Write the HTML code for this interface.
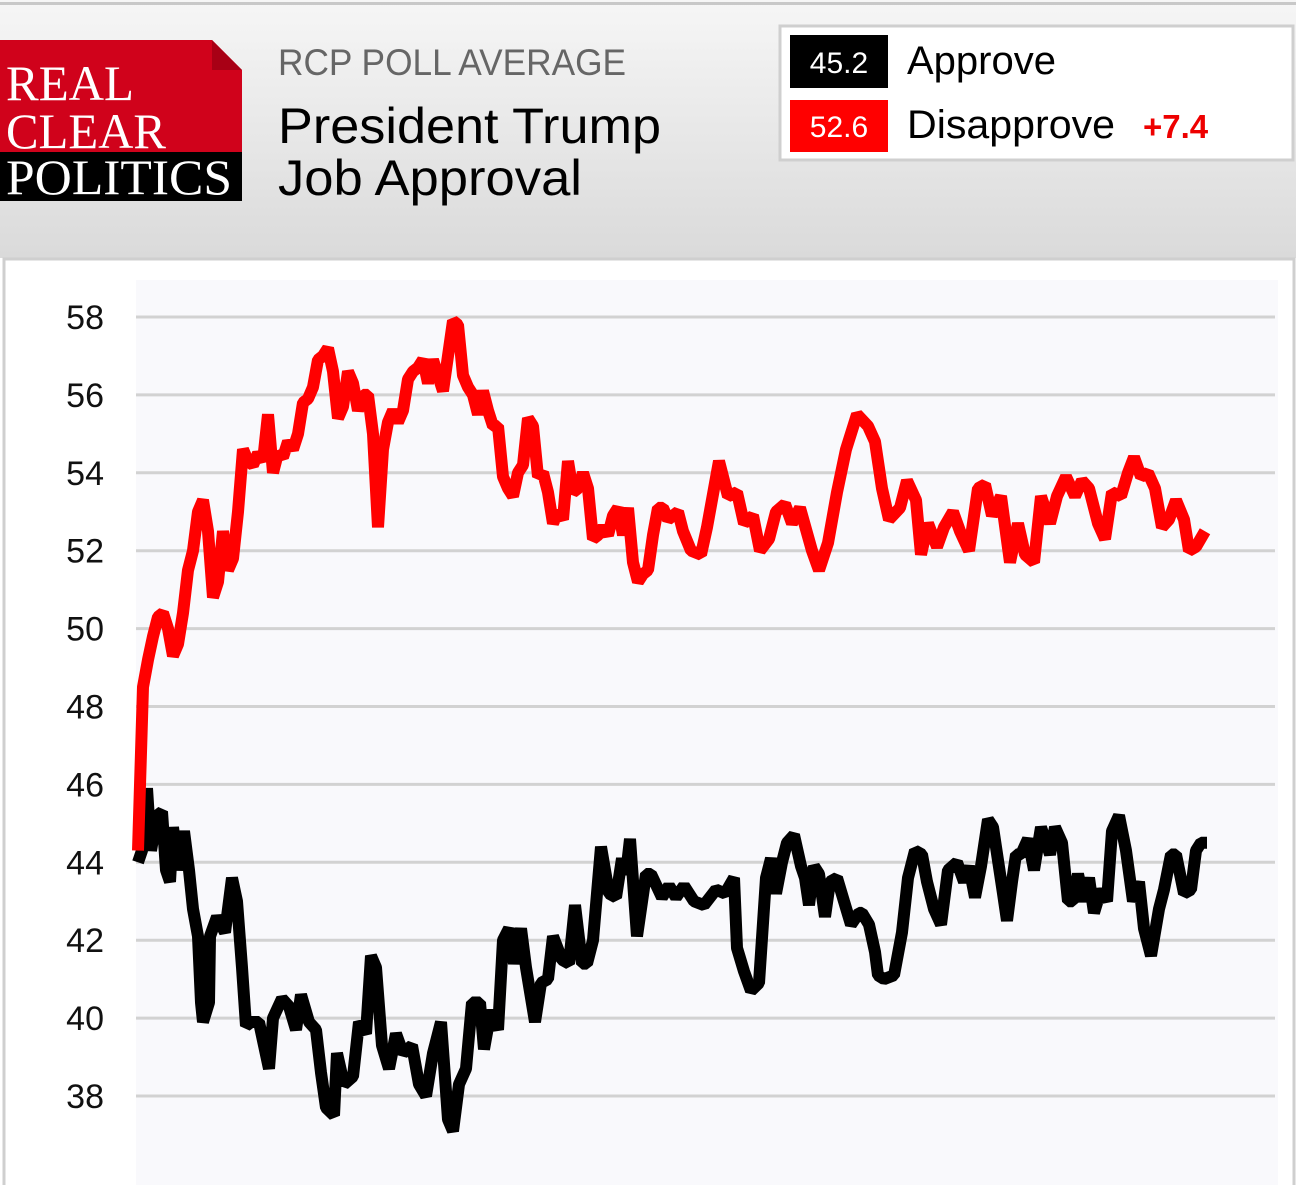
<!DOCTYPE html>
<html><head><meta charset="utf-8">
<style>
html,body{margin:0;padding:0;width:1296px;height:1185px;overflow:hidden;background:#fff;font-family:"Liberation Sans",sans-serif}
svg text{font-family:"Liberation Sans",sans-serif}
</style></head>
<body>
<svg width="1296" height="1185" viewBox="0 0 1296 1185">
<defs>
<linearGradient id="hdr" x1="0" y1="0" x2="0" y2="1">
<stop offset="0" stop-color="#f6f6f6"/><stop offset="1" stop-color="#dadada"/>
</linearGradient>
</defs>
<g>
<rect x="0" y="0" width="1296" height="258" fill="url(#hdr)"/>
<rect x="0" y="2" width="1296" height="3" fill="#c8c8c8"/>
</g>
<g>
<polygon points="0,40 212,40 242,70 242,152 0,152" fill="#d0021b"/>
<polygon points="212,40 242,70 212,70" fill="#a80015"/>
<rect x="0" y="152" width="242" height="49" fill="#000"/>
<text x="6" y="100" font-size="50" fill="#fff" textLength="128" lengthAdjust="spacingAndGlyphs" style="font-family:'Liberation Serif',serif">REAL</text>
<text x="6" y="148" font-size="50" fill="#fff" textLength="160" lengthAdjust="spacingAndGlyphs" style="font-family:'Liberation Serif',serif">CLEAR</text>
<text x="6" y="194" font-size="50" fill="#fff" textLength="226" lengthAdjust="spacingAndGlyphs" style="font-family:'Liberation Serif',serif">POLITICS</text>
</g>
<text x="278" y="75" font-size="37" fill="#666" textLength="348" lengthAdjust="spacingAndGlyphs">RCP POLL AVERAGE</text>
<text x="278" y="143" font-size="50" fill="#000" textLength="383" lengthAdjust="spacingAndGlyphs">President Trump</text>
<text x="278" y="195" font-size="50" fill="#000" textLength="304" lengthAdjust="spacingAndGlyphs">Job Approval</text>

<g>
<rect x="780" y="26" width="513" height="134" fill="#fff" stroke="#cfcfcf" stroke-width="3"/>
<g>
<rect x="790" y="35" width="98" height="53" fill="#000"/>
<text x="839" y="73" font-size="30" fill="#fff" text-anchor="middle">45.2</text>
<text x="907" y="74" font-size="40" fill="#000">Approve</text>
</g>
<g>
<rect x="790" y="100" width="98" height="52" fill="#f00"/>
<text x="839" y="137" font-size="30" fill="#fff" text-anchor="middle">52.6</text>
<text x="907" y="138" font-size="40" fill="#000" textLength="208" lengthAdjust="spacingAndGlyphs">Disapprove</text>
<text x="1143" y="138" font-size="33" font-weight="bold" fill="#e00">+7.4</text>
</g>
</g>

<g>
<rect x="4" y="259" width="1290" height="930" fill="#fff" stroke="#cfcfcf" stroke-width="3"/>
<rect x="136" y="280" width="1142" height="905" fill="#f9f9fc"/>
</g>
<g id="grid"></g>
<g id="yaxis"></g>
<g id="series"></g>
</svg>
<script>
const yTicks = [58,56,54,52,50,48,46,44,42,40,38];
const disDays = [0,5,10,15,20,25,30,35,40,45,50,55,60,65,70,75,80,85,90,95,100,105,110,115,120,125,130,135,140,145,150,155,160,165,170,175,180,185,190,195,200,205,210,215,220,225,230,235,240,245,250,255,260,265,270,275,280,285,290,295,300,305,310,315,320,325,330,335,340,345,350,355,360,365,370,375,380,385,390,395,400,405,410,415,420,425,430,435,440,445,450,455,460,465,470,475,480,485,490,495,500,505,510,515,520,525,530,535,540,545,553,563,569,581,590,599,606,615,622,631,638,647,654,662,674,681,690,699,708,719,730,737,744,751,762,769,778,783,790,799,806,815,822,831,840,847,854,863,872,880,887,896,903,912,919,928,937,944,951,960,967,974,983,990,996,1003,1010,1017,1024,1031,1038,1046,1051,1058,1067];
const disVals = [44.3,48.5,49.2,49.8,50.3,50.4,50.0,49.3,49.6,50.4,51.5,52.0,53.0,53.3,52.5,50.8,51.2,52.5,51.5,51.8,53.0,54.6,54.3,54.2,54.5,54.3,55.5,54.0,54.5,54.4,54.8,54.6,55.0,55.8,55.9,56.2,56.9,57.0,57.2,56.6,55.4,55.7,56.6,56.3,55.6,56.0,56.0,55.0,52.6,54.6,55.3,55.6,55.3,55.6,56.4,56.6,56.7,56.9,56.3,56.9,56.5,56.1,57.0,57.9,57.8,56.5,56.2,56.0,55.5,56.1,55.6,55.2,55.2,53.9,53.6,53.4,54.0,54.2,55.4,55.2,53.9,54.0,53.5,52.7,53.0,52.8,54.3,53.5,53.6,54.0,53.6,52.3,52.4,52.6,52.4,52.9,53.1,52.4,53.1,51.7,51.2,51.4,51.5,52.4,53.1,53.1,52.8,52.9,53.0,52.5,52.0,51.9,52.6,54.3,53.4,53.5,52.7,52.9,52.0,52.3,53.0,53.2,52.7,53.1,52.0,51.5,52.2,53.5,54.6,55.5,55.2,54.8,53.6,52.8,53.1,53.8,53.3,51.9,52.7,52.1,52.6,53.0,52.5,52.0,53.6,53.7,52.9,53.4,51.7,52.7,51.9,51.7,53.4,52.7,53.4,53.9,53.4,53.8,53.6,52.7,52.3,53.5,53.4,54.0,54.4,53.9,54.0,53.6,52.6,52.8,53.3,52.8,52.0,52.1,52.5];
const appDays = [0,4,9,13,19,24,28,32,35,40,46,51,55,60,63,65,71,72,79,87,94,99,104,108,113,121,126,131,135,144,151,158,163,171,178,183,188,196,199,206,215,221,228,233,238,244,251,258,265,274,281,288,295,303,310,315,321,328,334,342,346,353,360,365,371,376,383,388,397,403,410,415,424,431,437,444,449,455,463,471,478,484,488,492,499,508,513,524,531,538,546,556,566,578,587,596,599,606,613,621,628,633,638,644,649,656,663,667,671,676,681,687,692,699,706,713,721,724,731,737,740,746,756,764,770,777,784,789,796,803,810,819,826,831,837,843,850,855,865,869,874,878,883,890,896,903,912,917,924,930,935,940,946,951,956,963,969,974,981,988,995,1001,1006,1013,1021,1026,1033,1038,1046,1053,1058,1063,1069];
const appVals = [44.0,44.3,45.9,44.3,45.2,45.3,43.8,43.5,44.9,43.8,44.8,43.8,42.8,42.1,40.4,39.9,40.4,42.1,42.6,42.2,43.6,43.0,41.3,39.8,39.9,39.9,39.3,38.7,40.0,40.5,40.3,39.7,40.6,39.9,39.7,38.6,37.7,37.5,39.1,38.3,38.5,39.9,39.6,41.6,41.3,39.3,38.7,39.6,39.1,39.3,38.3,38.0,39.1,39.9,37.4,37.1,38.3,38.7,40.4,40.4,39.2,40.2,39.7,42.0,42.3,41.4,42.3,41.3,39.9,40.9,41.0,42.1,41.5,41.4,42.9,41.4,41.4,42.0,44.4,43.2,43.1,44.1,43.7,44.6,42.1,43.7,43.7,43.1,43.4,43.1,43.4,43.0,42.9,43.3,43.2,43.6,41.8,41.2,40.7,40.9,43.6,44.1,43.2,44.0,44.5,44.7,43.9,43.6,42.9,43.9,43.7,42.6,43.5,43.6,43.0,42.4,42.7,42.7,42.4,41.7,41.1,41.0,41.1,42.2,43.6,44.3,44.2,43.5,42.8,42.4,43.8,44.0,43.5,43.9,43.1,43.9,45.1,44.9,43.2,42.5,43.5,44.2,44.2,44.6,43.8,44.9,44.2,44.9,44.5,43.0,43.0,43.7,43.0,43.6,42.7,43.3,43.0,44.8,45.2,44.3,43.0,43.5,42.3,41.6,42.8,43.3,44.2,44.2,43.2,43.3,44.3,44.5,44.5,44.2,45.3,45.3];

const NS = 'http://www.w3.org/2000/svg';
const X0 = 138, X1 = 1208, DMAX = 1070;
const Y58 = 317, Y38 = 1096;
function xScale(d){ return X0 + (d / DMAX) * (X1 - X0); }
function yScale(v){ return Y58 + (58 - v) * (Y38 - Y58) / 20; }

const grid = document.getElementById('grid');
const yaxis = document.getElementById('yaxis');
yTicks.forEach(t => {
  const ln = document.createElementNS(NS, 'line');
  ln.setAttribute('x1', 136); ln.setAttribute('x2', 1275);
  ln.setAttribute('y1', yScale(t)); ln.setAttribute('y2', yScale(t));
  ln.setAttribute('stroke', '#d2d2d2'); ln.setAttribute('stroke-width', 3);
  
  
  grid.appendChild(ln);
  const tx = document.createElementNS(NS, 'text');
  tx.setAttribute('x', 104); tx.setAttribute('y', yScale(t) + 12);
  tx.setAttribute('text-anchor', 'end'); tx.setAttribute('font-size', 34);
  tx.setAttribute('fill', '#111');
  tx.textContent = t;
  
  
  yaxis.appendChild(tx);
});

function drawLine(days, vals, color, name){
  const pts = days.map((d, i) => xScale(d).toFixed(1) + ',' + yScale(vals[i]).toFixed(1)).join(' ');
  const pl = document.createElementNS(NS, 'polyline');
  pl.setAttribute('points', pts);
  pl.setAttribute('fill', 'none');
  pl.setAttribute('stroke', color);
  pl.setAttribute('stroke-width', 12);
  pl.setAttribute('stroke-linejoin', 'bevel');
  
  
  document.getElementById('series').appendChild(pl);
}
drawLine(appDays, appVals, '#000', 'approve-line');
drawLine(disDays, disVals, '#f00', 'disapprove-line');
</script>
</body></html>
